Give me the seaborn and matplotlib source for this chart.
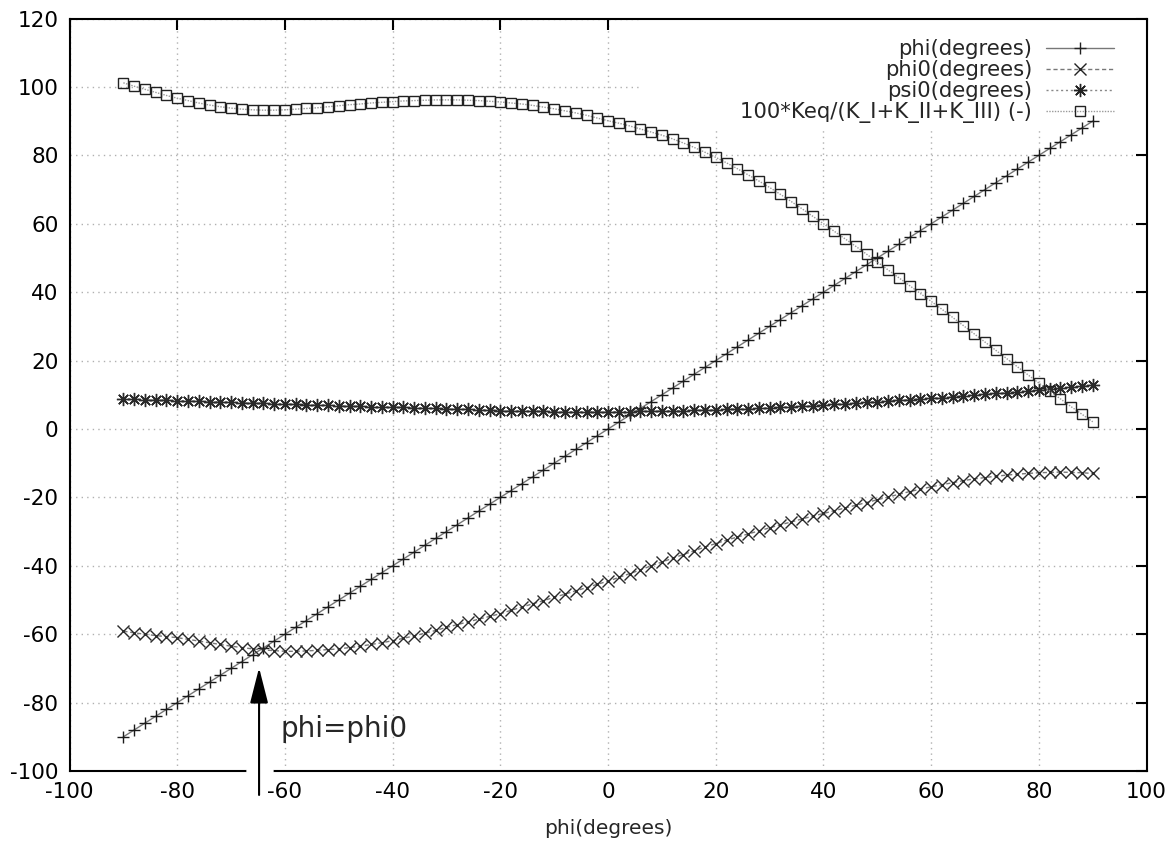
import numpy as np
import matplotlib
matplotlib.use("Agg")
import matplotlib.pyplot as plt
import seaborn as sns
from matplotlib.patches import Rectangle

# phi grid (degrees), every 2 degrees
phi = list(range(-90, 92, 2))

phi0 = [-59.1, -59.6, -60.0, -60.4, -60.7, -61.0, -61.5, -62.0, -62.5, -63.0,
        -63.5, -63.9, -64.3, -64.6, -64.8, -65.0, -65.0, -64.9, -64.7, -64.5,
        -64.3, -63.9, -63.5, -63.0, -62.5, -61.9, -61.2, -60.5, -59.7, -58.9,
        -58.0, -57.2, -56.4, -55.6, -54.8, -54.0, -53.0, -52.1, -51.1, -50.2,
        -49.2, -48.3, -47.3, -46.4, -45.4, -44.5, -43.4, -42.3, -41.2, -40.0,
        -38.9, -37.8, -36.7, -35.6, -34.5, -33.5, -32.5, -31.6, -30.7, -29.8,
        -28.9, -28.0, -27.2, -26.3, -25.5, -24.7, -23.9, -23.1, -22.3, -21.5,
        -20.7, -19.9, -19.1, -18.3, -17.6, -16.9, -16.3, -15.7, -15.1, -14.6,
        -14.2, -13.8, -13.5, -13.2, -13.0, -12.8, -12.7, -12.6, -12.7, -12.8,
        -13.0]

psi0 = [8.7, 8.7, 8.6, 8.5, 8.4, 8.3, 8.2, 8.1, 8.0, 7.9,
        7.8, 7.7, 7.6, 7.5, 7.4, 7.3, 7.2, 7.1, 7.0, 6.9,
        6.8, 6.7, 6.6, 6.5, 6.45, 6.4, 6.3, 6.2, 6.1, 6.0,
        5.9, 5.8, 5.7, 5.6, 5.5, 5.4, 5.3, 5.25, 5.2, 5.15,
        5.1, 5.05, 5.0, 5.0, 5.0, 5.0, 5.05, 5.1, 5.15, 5.2,
        5.3, 5.35, 5.4, 5.5, 5.55, 5.6, 5.7, 5.8, 5.9, 6.0,
        6.2, 6.3, 6.5, 6.7, 6.85, 7.0, 7.2, 7.4, 7.6, 7.8,
        8.0, 8.2, 8.4, 8.6, 8.8, 9.0, 9.2, 9.4, 9.7, 9.9,
        10.1, 10.4, 10.6, 10.9, 11.1, 11.3, 11.6, 11.9, 12.2, 12.5,
        12.8]

keq = [101.2, 100.2, 99.3, 98.4, 97.5, 96.7, 96.0, 95.3, 94.7, 94.2,
       93.8, 93.5, 93.3, 93.2, 93.2, 93.3, 93.5, 93.7, 93.9, 94.2,
       94.5, 94.8, 95.0, 95.3, 95.5, 95.7, 95.9, 96.0, 96.1, 96.2,
       96.2, 96.2, 96.1, 96.0, 95.8, 95.6, 95.3, 95.0, 94.6, 94.1,
       93.6, 93.0, 92.4, 91.7, 90.9, 90.1, 89.4, 88.6, 87.7, 86.8,
       85.9, 84.8, 83.6, 82.3, 80.9, 79.4, 77.8, 76.1, 74.3, 72.5,
       70.6, 68.6, 66.5, 64.4, 62.2, 60.0, 57.8, 55.6, 53.4, 51.1,
       48.8, 46.5, 44.2, 41.9, 39.6, 37.3, 35.0, 32.6, 30.2, 27.8,
       25.4, 23.0, 20.6, 18.2, 15.8, 13.4, 11.1, 8.8, 6.5, 4.3,
       2.1]

labels = ["phi(degrees)", "phi0(degrees)", "psi0(degrees)",
          "100*Keq/(K_I+K_II+K_III) (-)"]
xticks = list(range(-100, 101, 20))
yticks = list(range(-100, 121, 20))
arrow_x = -64.8   # where phi = phi0

sns.set_style("white")
plt.rcParams['font.family'] = ['DejaVu Sans']
plt.rcParams['axes.unicode_minus'] = False

fig = plt.figure(figsize=(11.76, 8.41), dpi=100)
ax = fig.add_axes([0.0591, 0.0832, 0.9159, 0.8948])

star = (8, 2, 0)  # gnuplot style asterisk
sns.lineplot(x=phi, y=phi, ax=ax, label=labels[0], color='#777777', lw=1.0,
             linestyle='-', marker='+', markersize=8.5, markeredgewidth=1.0,
             markeredgecolor='#1a1a1a', zorder=3)
sns.lineplot(x=phi, y=phi0, ax=ax, label=labels[1], color='#777777', lw=1.0,
             linestyle=(0, (3, 2)), marker='x', markersize=9, markeredgewidth=1.0,
             markeredgecolor='#2a2a2a', zorder=3)
sns.lineplot(x=phi, y=psi0, ax=ax, label=labels[2], color='#888888', lw=1.0,
             linestyle=(0, (1.5, 2)), marker=star, markersize=9.5, markeredgewidth=1.0,
             markeredgecolor='#2a2a2a', zorder=3)
sns.lineplot(x=phi, y=keq, ax=ax, label=labels[3], color='#999999', lw=1.0,
             linestyle=(0, (1, 1)), marker='s', markersize=7.2, markeredgewidth=1.0,
             markerfacecolor='none', markeredgecolor='#222222', zorder=3)

ax.set_xlim(-100, 100)
ax.set_ylim(-100, 120)
ax.set_xticks(xticks)
ax.set_yticks(yticks)
ax.tick_params(direction='in', length=8, width=1.5, top=True, right=True,
               labelsize=15.5, colors='black', pad=8)
for s in ax.spines.values():
    s.set_color('black')
    s.set_linewidth(1.5)
    s.set_zorder(4)
ax.grid(True, color='#b0b0b0', linestyle=(0, (1, 3)), linewidth=1.0)
ax.set_axisbelow(True)
ax.set_xlabel('phi(degrees)', fontsize=14.5, labelpad=12)

# opaque key area (hides the grid like gnuplot's key box)
ax.add_patch(Rectangle((0.53, 0.853), 0.47, 0.147, transform=ax.transAxes,
                       facecolor='white', edgecolor='none', zorder=1))

leg = ax.legend(loc='upper right', bbox_to_anchor=(0.978, 0.9835), frameon=False,
                markerfirst=False, fontsize=15.2, handlelength=3.25,
                handletextpad=0.65, labelspacing=0.04, borderaxespad=0,
                borderpad=0.4)
for h in leg.legend_handles:
    h.set_markeredgecolor('#222222')

# arrow marking phi = phi0
ax.plot([-66.7, -62.6], [-100, -100], color='white', lw=4, clip_on=False, zorder=5)
ax.annotate('', xy=(arrow_x, -69.8), xytext=(arrow_x, -107),
            arrowprops=dict(arrowstyle='-|>,head_length=1.1,head_width=0.28',
                            mutation_scale=20, color='black', lw=1.5,
                            shrinkA=0, shrinkB=0),
            annotation_clip=False, zorder=6)
ax.text(-60.8, -87.7, 'phi=phi0', fontsize=20, va='center', ha='left')

fig.savefig('out.png', dpi=100)
